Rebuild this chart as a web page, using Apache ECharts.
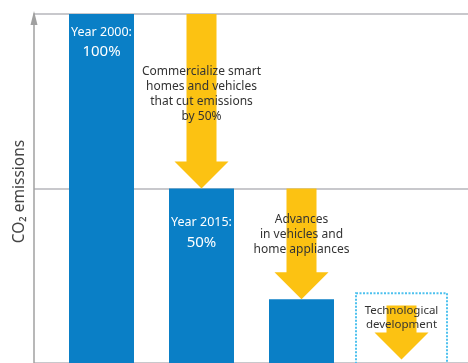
<!DOCTYPE html>
<html>
<head>
<meta charset="utf-8">
<script src="https://cdn.jsdelivr.net/npm/echarts@6/dist/echarts.min.js"></script>
<style>
  html, body { margin: 0; padding: 0; background: #fff; }
  #chart { width: 468px; height: 363px; }
</style>
</head>
<body>
<div id="chart"></div>
<script>
// Emission levels (percent of the year-2000 level) at each stage
const stages = [1, 2, 3];
const emissions = [100, 50, 18.3];
const barYears = ['Year 2000:', 'Year 2015:'];
const barValues = ['100%', '50%'];

// Reduction arrows: stage position, starting level, ending level
const arrowStage = [2, 3, 4];
const arrowFrom = [100, 50, 16.5];
const arrowTo = [50, 18.3, 1];
const arrowNotes = [
  'Commercialize smart\nhomes and vehicles\nthat cut emissions\nby 50%',
  'Advances\nin vehicles and\nhome appliances',
  'Technological\ndevelopment'
];

// Future target outlined with a dotted frame
const targetStage = [4];
const targetLevel = [20];

const BLUE = '#0a7fc6';
const YELLOW = '#fcc212';
const FONT = '"Noto Sans", sans-serif';

// Text offsets below each arrow's start and label distances (pixels)
const noteOffset = [50, 24, -1];
const labelDistance = [9, 25];

const chart = echarts.init(document.getElementById('chart'));

const barData = stages.map((s, i) => {
  const item = { value: [s, emissions[i]] };
  if (i < barYears.length) {
    item.label = {
      show: true,
      position: 'insideTop',
      distance: labelDistance[i],
      formatter: '{a|' + barYears[i] + '}\n{b|' + barValues[i] + '}'
    };
  }
  return item;
});

const arrowData = arrowStage.map((s, i) => [s, arrowFrom[i], arrowTo[i], i]);
const targetData = targetStage.map((s, i) => [s, targetLevel[i]]);

function renderArrow(params, api) {
  const x = api.value(0);
  const idx = api.value(3);
  const top = api.coord([x, api.value(1)]);
  const tip = api.coord([x, api.value(2)]);
  const shaftHalf = 15, headHalf = 27, headLen = 27;
  const cx = tip[0];
  const base = tip[1] - headLen;
  const pts = [
    [cx - shaftHalf, top[1]], [cx + shaftHalf, top[1]],
    [cx + shaftHalf, base], [cx + headHalf, base],
    [cx, tip[1]],
    [cx - headHalf, base], [cx - shaftHalf, base]
  ];
  const small = idx === 2;
  return {
    type: 'group',
    children: [
      { type: 'polygon', shape: { points: pts }, style: { fill: YELLOW } },
      {
        type: 'text',
        z2: 10,
        style: {
          x: cx,
          y: top[1] + noteOffset[idx],
          text: arrowNotes[idx],
          align: 'center',
          verticalAlign: 'top',
          fill: '#333',
          font: (small ? '11.5px ' : '12px ') + FONT,
          lineHeight: small ? 13.5 : 15
        }
      }
    ]
  };
}

function renderTarget(params, api) {
  const x = api.value(0);
  const topPt = api.coord([x, api.value(1)]);
  const basePt = api.coord([x, 0]);
  const w = 91;
  return {
    type: 'rect',
    shape: { x: topPt[0] - w / 2, y: topPt[1], width: w, height: basePt[1] - topPt[1] + 4 },
    style: { fill: 'none', stroke: '#4ec1ee', lineWidth: 2, lineDash: [2, 1.5] }
  };
}

chart.setOption({
  animation: false,
  backgroundColor: '#fff',
  grid: { left: 34, right: 0, top: 14, height: 350 },
  xAxis: {
    type: 'value',
    min: 0.325,
    max: 4.665,
    show: false
  },
  yAxis: {
    type: 'value',
    min: 0,
    max: 100,
    interval: 50,
    name: 'CO₂ emissions',
    nameLocation: 'middle',
    nameGap: 6,
    nameTextStyle: { fontFamily: FONT, fontSize: 15.5, color: '#444', padding: [0, 6, 0, 0] },
    axisLine: {
      show: true,
      symbol: ['none', 'triangle'],
      symbolSize: [7, 14],
      symbolOffset: [0, -4],
      lineStyle: { color: '#a0a0a0', width: 1.5 }
    },
    axisTick: { show: false },
    axisLabel: { show: false },
    splitLine: { show: true, lineStyle: { color: '#c8c8cc', width: 2 } }
  },
  series: [
    {
      type: 'bar',
      data: barData,
      barWidth: 65,
      itemStyle: { color: BLUE },
      label: {
        color: '#fff',
        fontFamily: FONT,
        rich: {
          a: { fontFamily: FONT, fontSize: 12.5, color: '#fff', lineHeight: 18 },
          b: { fontFamily: FONT, fontSize: 15, color: '#fff', lineHeight: 22 }
        }
      },
      z: 2
    },
    {
      type: 'custom',
      data: targetData,
      renderItem: renderTarget,
      z: 3
    },
    {
      type: 'custom',
      data: arrowData,
      renderItem: renderArrow,
      z: 4
    }
  ]
});
</script>
</body>
</html>
